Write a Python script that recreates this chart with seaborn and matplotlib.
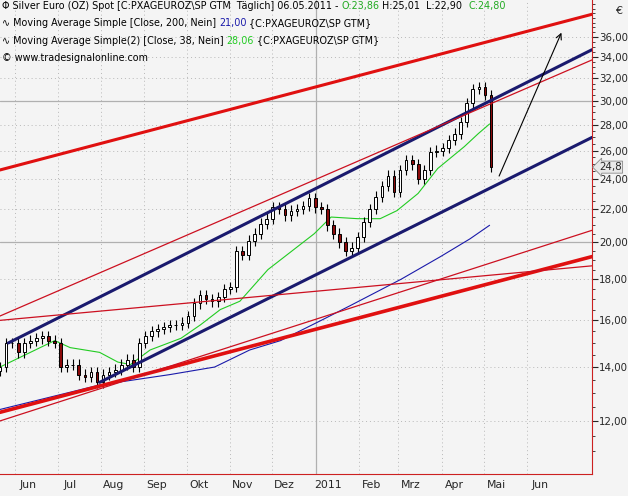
import numpy as np
import pandas as pd
import seaborn as sns
import matplotlib.pyplot as plt
import matplotlib.dates as mdates
from matplotlib import offsetbox
from matplotlib.ticker import FixedLocator, NullFormatter

# --- data ---
close_start, close_end = "2010-05-21", "2011-05-06"
closes = [14.0, 15.0, 15.0, 14.6, 15.0, 15.1, 15.2, 15.3, 15.1, 15.0,
          14.0, 14.1, 14.1, 13.7, 13.6, 13.8, 13.4, 13.7, 13.8, 13.9,
          14.1, 14.3, 14.0, 15.0, 15.3, 15.5, 15.6, 15.7, 15.8, 15.8,
          15.9, 16.2, 16.8, 17.2, 17.0, 16.9, 17.1, 17.5, 17.6, 19.5,
          19.3, 20.1, 20.5, 21.1, 21.4, 22.1, 22.0, 21.6, 21.9, 22.0,
          22.2, 22.7, 22.1, 22.0, 21.0, 20.5, 20.0, 19.5, 19.7, 20.3,
          21.2, 22.0, 22.8, 23.5, 24.2, 23.1, 24.6, 25.3, 25.0, 24.0,
          24.6, 25.9, 26.0, 26.2, 26.8, 27.3, 28.2, 29.8, 31.0, 31.2,
          30.5, 24.8]

ma38_dates = ["2010-05-21", "2010-06-29", "2010-07-10", "2010-07-31", "2010-08-13",
              "2010-08-22", "2010-09-05", "2010-09-27", "2010-10-11", "2010-10-25",
              "2010-11-08", "2010-11-28", "2010-12-31", "2011-01-12", "2011-01-31",
              "2011-02-16", "2011-02-28", "2011-03-15", "2011-03-29", "2011-04-17",
              "2011-04-27", "2011-05-05"]
ma38_values = [14.0, 15.1, 14.8, 14.6, 14.2, 14.1, 14.7, 15.2, 15.8, 16.5,
               16.9, 18.5, 20.5, 21.5, 21.4, 21.4, 21.9, 23.0, 24.7, 26.3,
               27.3, 28.06]

ma200_dates = ["2010-05-21", "2010-07-31", "2010-09-19", "2010-10-21", "2010-11-15",
               "2010-12-07", "2011-01-05", "2011-01-26", "2011-03-03", "2011-03-31",
               "2011-04-21", "2011-05-05"]
ma200_values = [12.4, 13.3, 13.7, 14.0, 14.7, 15.1, 16.0, 16.7, 18.0, 19.2, 20.2, 21.0]

# trendlines: (start date, start value, end date, end value, colour, width)
trendlines = [
    ("2010-05-21", 24.6, "2011-07-17", 38.4, "#e01010", 2.2),
    ("2010-05-27", 15.0, "2011-07-17", 34.7, "#1a1a6e", 2.2),
    ("2010-07-31", 13.4, "2011-07-17", 27.0, "#1a1a6e", 2.2),
    ("2010-05-21", 12.3, "2011-07-17", 19.2, "#e01010", 2.6),
    ("2010-05-21", 16.2, "2011-07-17", 33.7, "#cc1020", 0.9),
    ("2010-05-21", 16.0, "2011-07-17", 18.7, "#cc1020", 0.9),
    ("2010-05-21", 12.0, "2011-07-17", 20.7, "#cc1020", 0.9),
]
arrow_from = ("2011-05-11", 24.0)
arrow_to = ("2011-06-26", 36.7)

month_starts = ["2010-06-01", "2010-07-01", "2010-08-01", "2010-09-01", "2010-10-01",
                "2010-11-01", "2010-12-01", "2011-01-01", "2011-02-01", "2011-03-01",
                "2011-04-01", "2011-05-01", "2011-06-01"]
month_labels = ["Jun", "Jul", "Aug", "Sep", "Okt", "Nov", "Dez", "2011", "Feb", "Mrz",
                "Apr", "Mai", "Jun"]
price_ticks = list(range(12, 37, 2))

# --- plot ---
sns.set_style("white")
fig = plt.figure(figsize=(6.28, 4.96), dpi=100)
fig.patch.set_facecolor("#f4f4f4")
ax = fig.add_axes([0, 22 / 496, 592 / 628, 1 - 22 / 496])
ax.set_facecolor("#f4f4f4")
ax.set_yscale("log")

xmin = mdates.date2num(pd.Timestamp("2010-05-21"))
xmax = mdates.date2num(pd.Timestamp("2011-07-17"))
ax.set_xlim(xmin, xmax)
ax.set_ylim(10.31, 40.0)

# grid
for v in price_ticks:
    ax.axhline(v, color="#b8b8b8", lw=0.7, ls=(0, (1, 3)), zorder=0)
for d in month_starts:
    ax.axvline(mdates.date2num(pd.Timestamp(d)), color="#b8b8b8", lw=0.7, ls=(0, (1, 3)), zorder=0)
ax.axhline(20, color="#b0b0b0", lw=0.9, zorder=0)
ax.axhline(30, color="#b0b0b0", lw=0.9, zorder=0)
ax.axvline(mdates.date2num(pd.Timestamp("2011-01-01")), color="#b0b0b0", lw=0.9, zorder=0)

# moving averages
ma38 = pd.DataFrame({"d": mdates.date2num(pd.to_datetime(ma38_dates)), "v": ma38_values})
ma200 = pd.DataFrame({"d": mdates.date2num(pd.to_datetime(ma200_dates)), "v": ma200_values})
sns.lineplot(data=ma38, x="d", y="v", ax=ax, color="#22cc22", lw=0.8, zorder=2)
sns.lineplot(data=ma200, x="d", y="v", ax=ax, color="#1a1aaa", lw=0.8, zorder=2)

# candles
dates = mdates.date2num(pd.date_range(close_start, close_end, periods=len(closes)))
c = np.array(closes)
o = np.r_[c[0] * 0.99, c[:-1]]
hi = np.maximum(o, c) * 1.015
lo = np.minimum(o, c) * 0.985
ax.vlines(dates, lo, hi, color="black", lw=0.8, zorder=3)
up = c >= o
ax.bar(dates[up], (c - o)[up], bottom=o[up], width=1.9, color="white",
       edgecolor="black", lw=0.7, zorder=4)
ax.bar(dates[~up], (o - c)[~up], bottom=c[~up], width=1.9, color="#8b0a0a",
       edgecolor="black", lw=0.7, zorder=4)

# trendlines
for d0, v0, d1, v1, col, w in trendlines:
    ax.plot(mdates.date2num(pd.to_datetime([d0, d1])), [v0, v1], color=col, lw=w, zorder=5)

ax.annotate("", xy=(mdates.date2num(pd.Timestamp(arrow_to[0])), arrow_to[1]),
            xytext=(mdates.date2num(pd.Timestamp(arrow_from[0])), arrow_from[1]),
            arrowprops=dict(arrowstyle="->", color="black", lw=0.8), zorder=6)

# axes
ax.yaxis.tick_right()
ax.yaxis.set_major_locator(FixedLocator(price_ticks))
ax.yaxis.set_minor_locator(FixedLocator(np.arange(11, 40, 0.5)))
ax.yaxis.set_minor_formatter(NullFormatter())
ax.set_yticklabels([f"{v},00" for v in price_ticks], fontsize=7.4)
ax.tick_params(axis="y", which="major", length=4, direction="out", pad=1)
ax.tick_params(axis="y", which="minor", length=2, direction="out")
ms = mdates.date2num(pd.to_datetime(month_starts))
ax.set_xticks(ms)
ax.set_xticklabels([])
ax.tick_params(axis="x", length=4, direction="out")
for m, lab in zip(ms, month_labels):
    ax.text(m + 9, -0.012, lab, transform=ax.get_xaxis_transform(), ha="center",
            va="top", fontsize=7.8)
ax.set_xlabel("")
ax.set_ylabel("")
for s in ["top", "left"]:
    ax.spines[s].set_visible(False)
ax.spines["right"].set_color("#cc2020")
ax.spines["bottom"].set_color("#cc2020")

fig.text(0.99, 0.988, "€", ha="right", va="top", fontsize=8)
ax.annotate("24,8", xy=(1.0, 24.8), xycoords=("axes fraction", "data"),
            xytext=(5, 0), textcoords="offset points", fontsize=7.4, va="center",
            bbox=dict(boxstyle="larrow,pad=0.1", fc="#e8e8e8", ec="#888888", lw=0.6),
            annotation_clip=False)

# header
line1 = [("\u03a6 Silver Euro (OZ) Spot [C:PXAGEUROZ\\SP GTM  Täglich] 06.05.2011 - ", "black"),
         ("O:23,86", "#22aa22"), (" H:25,01  L:22,90  ", "black"), ("C:24,80", "#22aa22")]
line2 = [("\u223f Moving Average Simple [Close, 200, Nein] ", "black"), ("21,00", "#1a1aaa"),
         (" {C:PXAGEUROZ\\SP GTM}", "black")]
line3 = [("\u223f Moving Average Simple(2) [Close, 38, Nein] ", "black"), ("28,06", "#22cc22"),
         (" {C:PXAGEUROZ\\SP GTM}", "black")]
line4 = [("\u00a9 www.tradesignalonline.com", "black")]
for i, parts in enumerate([line1, line2, line3, line4]):
    boxes = [offsetbox.TextArea(s, textprops=dict(color=col, fontsize=6.9)) for s, col in parts]
    pack = offsetbox.HPacker(children=boxes, pad=0, sep=0)
    ab = offsetbox.AnchoredOffsetbox(loc="upper left", child=pack, frameon=False,
                                     bbox_to_anchor=(0.003, 0.997 - i * 0.036),
                                     bbox_transform=ax.transAxes, borderpad=0, pad=0)
    ax.add_artist(ab)

fig.savefig("out.png", dpi=100, facecolor=fig.get_facecolor())
